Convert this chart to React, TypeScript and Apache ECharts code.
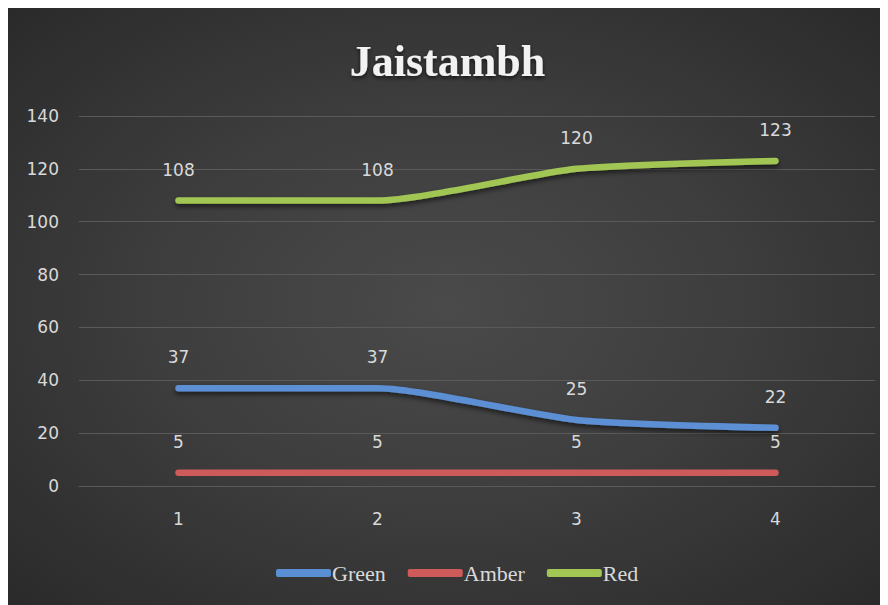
import React, { useEffect, useRef } from "react";
import * as echarts from "echarts";

const titleText = "Jaistambh";
const categories = ["1", "2", "3", "4"];
const greenValues = [37, 37, 25, 22];
const amberValues = [5, 5, 5, 5];
const redValues = [108, 108, 120, 123];
const seriesNames = ["Green", "Amber", "Red"];
const seriesColors = ["#5b8fd4", "#cf5a5a", "#a2c653"];

export default function App() {
  const ref = useRef<HTMLDivElement>(null);
  useEffect(() => {
    if (!ref.current) return;
    const chart = echarts.init(ref.current, undefined, { renderer: "svg" });
    const values = [greenValues, amberValues, redValues];
    chart.setOption({
      animation: false,
      backgroundColor: "transparent",
      title: {
        text: titleText,
        left: "center",
        top: 26,
        textStyle: {
          color: "#f2f2f2",
          fontFamily: "Liberation Serif",
          fontWeight: "bold",
          fontSize: 44,
          textShadowColor: "rgba(0,0,0,0.7)",
          textShadowBlur: 4,
          textShadowOffsetY: 2,
        },
      },
      grid: { left: 72, right: 13, top: 108, bottom: 119, containLabel: false },
      legend: {
        bottom: 16,
        left: 264,
        itemWidth: 55,
        itemHeight: 8,
        itemGap: 22,
        icon: "roundRect",
        data: seriesNames.map((name, i) => ({
          name,
          icon: "roundRect",
          itemStyle: { color: seriesColors[i], opacity: 1 },
        })),
        textStyle: {
          color: "#d9d9d9",
          fontFamily: "Liberation Serif",
          fontSize: 22,
          padding: [0, 0, 0, -4],
        },
      },
      xAxis: {
        type: "category",
        data: categories,
        boundaryGap: true,
        axisLine: { show: true, lineStyle: { color: "#5a5a5a", width: 1 } },
        axisTick: { show: false },
        axisLabel: {
          color: "#d9d9d9",
          fontFamily: "DejaVu Sans",
          fontSize: 17,
          margin: 24,
        },
      },
      yAxis: {
        type: "value",
        min: 0,
        max: 140,
        interval: 20,
        axisLine: { show: false },
        axisTick: { show: false },
        splitLine: { lineStyle: { color: "#5a5a5a", width: 1 } },
        axisLabel: {
          color: "#d9d9d9",
          fontFamily: "DejaVu Sans",
          fontSize: 17,
          margin: 20,
        },
      },
      series: seriesNames.map((name, i) => {
        const flat = values[i].every((v) => v === values[i][0]);
        return {
          name,
          type: "line",
          data: values[i],
          smooth: 0.2,
          symbol: "circle",
          symbolSize: 1,
          showSymbol: true,
          itemStyle: { color: "rgba(0,0,0,0)" },
          color: seriesColors[i],
          lineStyle: flat
            ? { width: 6.5, color: seriesColors[i], cap: "round" }
            : {
                width: 6.5,
                color: seriesColors[i],
                cap: "round",
                shadowColor: "rgba(0,0,0,0.55)",
                shadowBlur: 5,
                shadowOffsetY: 3,
              },
          label: {
            show: true,
            position: "top",
            distance: 22,
            color: "#d9d9d9",
            fontFamily: "DejaVu Sans",
            fontSize: 17,
          },
        };
      }),
    });
    return () => chart.dispose();
  }, []);
  return (
    <div
      style={{
        width: 881,
        height: 597,
        marginLeft: -1,
        background:
          "radial-gradient(ellipse at 50% 50%, #4a4a4a 0%, #3e3e3e 45%, #2a2a2a 100%)",
      }}
    >
      <div ref={ref} style={{ width: 881, height: 597 }} />
    </div>
  );
}
